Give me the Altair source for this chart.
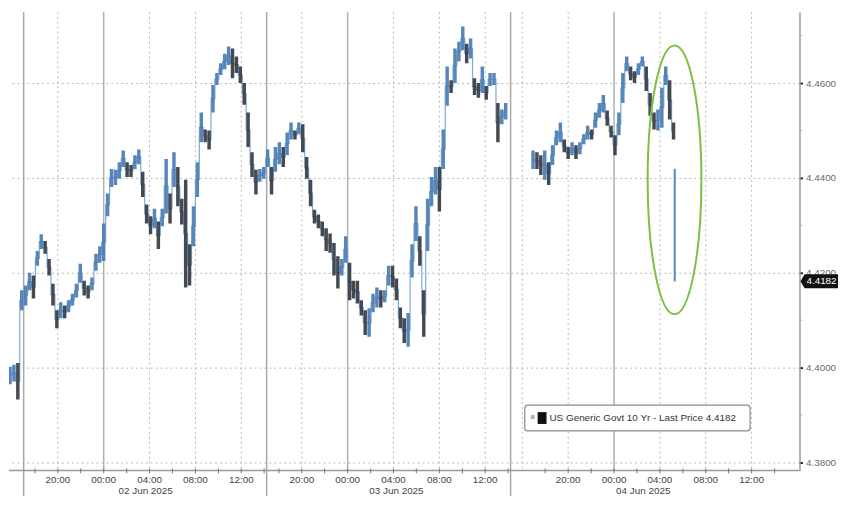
import altair as alt
import pandas as pd

# ---------------- data ----------------
# bar index: one bar every ~20 minutes on a session-compressed time axis
bar_high = [
    4.4083, 4.4002, 4.4006, 4.4010, 4.4163, 4.4173, 4.4200, 4.4194, 4.4246, 4.4281,
    4.4267, 4.4229, 4.4177, 4.4121, 4.4138, 4.4131, 4.4142, 4.4156, 4.4177, 4.4219,
    4.4183, 4.4173, 4.4190, 4.4240, 4.4256, 4.4304, 4.4367, 4.4419, 4.4417, 4.4433,
    4.4458, 4.4433, 4.4427, 4.4448, 4.4460, 4.4413, 4.4344, 4.4319, 4.4335, 4.4308,
    4.4335, 4.4440, 4.4367, 4.4454, 4.4423, 4.4356, 4.4396, 4.4260, 4.4340, 4.4433,
    4.4538, 4.4502, 4.4500, 4.4596, 4.4621, 4.4642, 4.4662, 4.4677, 4.4673, 4.4656,
    4.4635, 4.4600, 4.4538, 4.4454, 4.4417, 4.4419, 4.4423, 4.4460, 4.4423, 4.4465,
    4.4475, 4.4465, 4.4496, 4.4517, 4.4500, 4.4517, 4.4513, 4.4444, 4.4396, 4.4333,
    4.4323, 4.4308, 4.4294, 4.4283, 4.4263, 4.4235, 4.4229, 4.4277, 4.4221, 4.4183,
    4.4183, 4.4142, 4.4121, 4.4125, 4.4156, 4.4169, 4.4163, 4.4163, 4.4215, 4.4215,
    4.4188, 4.4127, 4.4104, 4.4115, 4.4260, 4.4340, 4.4277, 4.4163, 4.4356, 4.4402,
    4.4423, 4.4423, 4.4502, 4.4635, 4.4606, 4.4673, 4.4687, 4.4719, 4.4683, 4.4694,
    4.4610, 4.4600, 4.4635, 4.4594, 4.4621, 4.4621, 4.4558, 4.4544, 4.4558, None,
    None, None, None, None, None, 4.4458, 4.4454, 4.4448, 4.4458, 4.4433,
    4.4469, 4.4500, 4.4517, 4.4481, 4.4465, 4.4475, 4.4469, 4.4475, 4.4492, 4.4510,
    4.4502, 4.4538, 4.4558, 4.4575, 4.4542, 4.4510, 4.4490, 4.4538, 4.4621, 4.4656,
    4.4635, 4.4625, 4.4642, 4.4656, 4.4635, 4.4579, 4.4538, 4.4544, 4.4590, 4.4635,
    4.4606, 4.4517,
]
bar_low = [
    4.3850, 4.3965, 4.3971, 4.3933, 4.4121, 4.4131, 4.4163, 4.4146, 4.4215, 4.4250,
    4.4240, 4.4194, 4.4131, 4.4083, 4.4104, 4.4104, 4.4117, 4.4131, 4.4148, 4.4179,
    4.4152, 4.4146, 4.4163, 4.4204, 4.4221, 4.4225, 4.4319, 4.4381, 4.4385, 4.4398,
    4.4423, 4.4402, 4.4402, 4.4419, 4.4429, 4.4360, 4.4304, 4.4281, 4.4294, 4.4250,
    4.4298, 4.4325, 4.4304, 4.4381, 4.4340, 4.4302, 4.4169, 4.4173, 4.4256, 4.4360,
    4.4475, 4.4475, 4.4460, 4.4538, 4.4596, 4.4617, 4.4629, 4.4638, 4.4610, 4.4621,
    4.4600, 4.4554, 4.4465, 4.4402, 4.4365, 4.4392, 4.4398, 4.4423, 4.4365, 4.4413,
    4.4429, 4.4423, 4.4448, 4.4481, 4.4481, 4.4492, 4.4454, 4.4398, 4.4340, 4.4304,
    4.4294, 4.4277, 4.4246, 4.4242, 4.4194, 4.4167, 4.4194, 4.4221, 4.4142, 4.4146,
    4.4135, 4.4110, 4.4069, 4.4065, 4.4117, 4.4127, 4.4127, 4.4138, 4.4173, 4.4169,
    4.4142, 4.4083, 4.4052, 4.4044, 4.4190, 4.4267, 4.4215, 4.4065, 4.4246, 4.4340,
    4.4365, 4.4329, 4.4419, 4.4552, 4.4579, 4.4600, 4.4646, 4.4669, 4.4642, 4.4652,
    4.4575, 4.4569, 4.4579, 4.4565, 4.4594, 4.4596, 4.4475, 4.4513, 4.4523, None,
    None, None, None, None, None, 4.4419, 4.4419, 4.4406, 4.4396, 4.4385,
    4.4427, 4.4469, 4.4475, 4.4454, 4.4440, 4.4448, 4.4440, 4.4450, 4.4471, 4.4481,
    4.4481, 4.4506, 4.4527, 4.4538, 4.4510, 4.4485, 4.4448, 4.4490, 4.4558, 4.4625,
    4.4606, 4.4600, 4.4617, 4.4635, 4.4583, 4.4531, 4.4502, 4.4500, 4.4506, 4.4596,
    4.4523, 4.4481,
]
last_bar_index = 171.3
last_bar_open = 4.4419
last_price = 4.4182

y_major = [4.38, 4.40, 4.42, 4.44, 4.46]
y_minor = [4.39, 4.41, 4.43, 4.45, 4.47]

tick_pos = [13.25, 25, 36.75, 48.5, 60.25,
            75.75, 87.5, 99.25, 111, 122.75,
            144, 155.75, 167.5, 179.25, 191]
tick_lab = ["20:00", "00:00", "04:00", "08:00", "12:00"] * 3
date_pos = [35.75, 100, 163.25]
date_lab = ["02 Jun 2025", "03 Jun 2025", "04 Jun 2025"]
session_breaks = [4.5, 66.75, 129.25]
midnights = [25, 87.5, 155.75]
dotted_grid = [13.25, 36.75, 48.5, 60.25, 75.75, 99.25, 111, 122.75,
               132.25, 144, 167.5, 179.25, 191]
minor_x = [7.4, 19.1, 30.9, 42.6, 54.4, 66.1,
           69.9, 81.6, 93.4, 105.1, 116.9, 128.6,
           138.1, 149.9, 161.6, 173.4, 185.1, 196.9]

ellipse_x = 171.25
ellipse_y = 4.4396

legend_text = f"US Generic Govt 10 Yr - Last Price {last_price:.4f}"

# ---------------- layout ----------------
W = 800
H = 464
FONT = "Liberation Sans"

xs = alt.Scale(domain=[2, 202], nice=False, zero=False)
ys = alt.Scale(domain=[4.37833, 4.475], nice=False, zero=False)
yaxis = alt.Axis(orient="right", values=y_major, format=".4f", grid=True,
                 gridDash=[2, 3], gridColor="#b8b8b8", gridWidth=1,
                 domainColor="#9a9a9a", domainWidth=1.5,
                 tickColor="#222222", tickSize=3, tickWidth=2,
                 labelColor="#6a6a6a", labelFont=FONT, labelFontSize=10,
                 labelPadding=3, title=None)

bars = pd.DataFrame({"i": list(range(len(bar_high))), "hi": bar_high, "lo": bar_low})
bars["mid"] = (bars["hi"] + bars["lo"]) / 2
bars["dir"] = ["up" if d >= 0 else "down" for d in bars["mid"].diff().fillna(0)]
bars["seg"] = bars["hi"].isna().cumsum()
bars = bars.dropna()

grid_v = alt.Chart(pd.DataFrame({"x": dotted_grid})).mark_rule(
    strokeDash=[2, 3], color="#b8b8b8", strokeWidth=1
).encode(x=alt.X("x:Q", scale=xs, axis=None))

mid_lines = alt.Chart(pd.DataFrame({"x": midnights})).mark_rule(
    color="#b0b0b0", strokeWidth=1.5
).encode(x=alt.X("x:Q", scale=xs, axis=None))

sess_lines = alt.Chart(pd.DataFrame({"x": session_breaks})).mark_rule(
    color="#a8a8a8", strokeWidth=1.5, clip=False
).encode(x=alt.X("x:Q", scale=xs, axis=None),
         y=alt.value(0), y2=alt.value(H + 26))

path_line = alt.Chart(bars).mark_line(
    color="#7fa9d4", strokeWidth=1.2, interpolate="step", clip=True
).encode(
    x=alt.X("i:Q", scale=xs, axis=None),
    y=alt.Y("mid:Q", scale=ys, axis=yaxis),
    detail="seg:N",
)

candles = alt.Chart(bars).mark_bar(width=3.5, clip=True, opacity=0.92).encode(
    x=alt.X("i:Q", scale=xs, axis=None),
    y=alt.Y("lo:Q", scale=ys, axis=yaxis),
    y2="hi:Q",
    color=alt.Color("dir:N", scale=alt.Scale(domain=["up", "down"],
                                             range=["#4a7cb3", "#353b43"]),
                    legend=None),
)

last_bar = alt.Chart(pd.DataFrame({"x": [last_bar_index], "o": [last_bar_open],
                                   "c": [last_price]})).mark_rule(
    color="#4f88c0", strokeWidth=2
).encode(x=alt.X("x:Q", scale=xs, axis=None),
         y=alt.Y("o:Q", scale=ys, axis=yaxis), y2="c:Q")

ellipse = alt.Chart(pd.DataFrame({"x": [ellipse_x], "y": [ellipse_y]})).mark_point(
    shape="M 0 -1 A 0.2 1 0 1 1 0 1 A 0.2 1 0 1 1 0 -1 Z",
    size=73984, filled=False, stroke="#7cc043", strokeWidth=2, opacity=1, clip=False
).encode(x=alt.X("x:Q", scale=xs, axis=None),
         y=alt.Y("y:Q", scale=ys, axis=yaxis))

one = pd.DataFrame({"a": [0]})
legend_box = alt.Chart(one).mark_rect(
    fill="white", stroke="#8a8a8a", strokeWidth=1.2, cornerRadius=3
).encode(x=alt.value(522), x2=alt.value(750), y=alt.value(398), y2=alt.value(424))
legend_icon1 = alt.Chart(one).mark_rect(fill="#b0b0b0").encode(
    x=alt.value(528), x2=alt.value(532), y=alt.value(408), y2=alt.value(412))
legend_icon2 = alt.Chart(one).mark_rect(fill="#111111").encode(
    x=alt.value(535), x2=alt.value(544), y=alt.value(405), y2=alt.value(417))
legend_txt = alt.Chart(pd.DataFrame({"t": [legend_text]})).mark_text(
    align="left", baseline="middle", font=FONT, fontSize=10, color="#333333"
).encode(x=alt.value(547), y=alt.value(411.5), text="t:N")

x_line = alt.Chart(one).mark_rule(color="#9a9a9a", strokeWidth=1.5, clip=False).encode(
    x=alt.value(0), x2=alt.value(W), y=alt.value(H))
x_ticks = alt.Chart(pd.DataFrame({"x": tick_pos + minor_x})).mark_rule(
    color="#777777", strokeWidth=1, clip=False
).encode(x=alt.X("x:Q", scale=xs, axis=None), y=alt.value(H - 2), y2=alt.value(H + 3))

x_labels = alt.Chart(pd.DataFrame({"x": tick_pos, "t": tick_lab})).mark_text(
    baseline="middle", font=FONT, fontSize=10, color="#444444"
).encode(x=alt.X("x:Q", scale=xs, axis=None), y=alt.value(H + 10), text="t:N")
d_labels = alt.Chart(pd.DataFrame({"x": date_pos, "t": date_lab})).mark_text(
    baseline="middle", font=FONT, fontSize=10, color="#444444"
).encode(x=alt.X("x:Q", scale=xs, axis=None), y=alt.value(H + 21), text="t:N")

y_minor_ticks = alt.Chart(pd.DataFrame({"y": y_minor})).mark_rule(
    color="#b0b0b0", strokeWidth=1, clip=False
).encode(x=alt.value(W), x2=alt.value(W + 3),
         y=alt.Y("y:Q", scale=ys, axis=yaxis))

tag = alt.Chart(pd.DataFrame({"y": [last_price]})).mark_point(
    shape="M -1 0 L -0.78 -0.37 L 1 -0.37 L 1 0.37 L -0.78 0.37 Z",
    size=1444, filled=True, color="#111111", opacity=1, clip=False
).encode(x=alt.value(W + 20), y=alt.Y("y:Q", scale=ys, axis=yaxis))
tag_txt = alt.Chart(pd.DataFrame({"y": [last_price], "t": [f"{last_price:.4f}"]})).mark_text(
    align="left", baseline="middle", font=FONT, fontSize=10, color="white"
).encode(x=alt.value(W + 7), y=alt.Y("y:Q", scale=ys, axis=yaxis), text="t:N")

chart = alt.layer(
    grid_v, mid_lines, sess_lines, path_line, candles, last_bar, ellipse,
    legend_box, legend_icon1, legend_icon2, legend_txt,
    x_line, x_ticks, x_labels, d_labels, y_minor_ticks, tag, tag_txt,
).properties(
    width=W, height=H, padding={"left": 0, "top": 0, "right": 2, "bottom": 0},
    background="white",
).configure_view(stroke=None)

chart.save("out.html", embed_options={"renderer": "svg", "actions": False})
